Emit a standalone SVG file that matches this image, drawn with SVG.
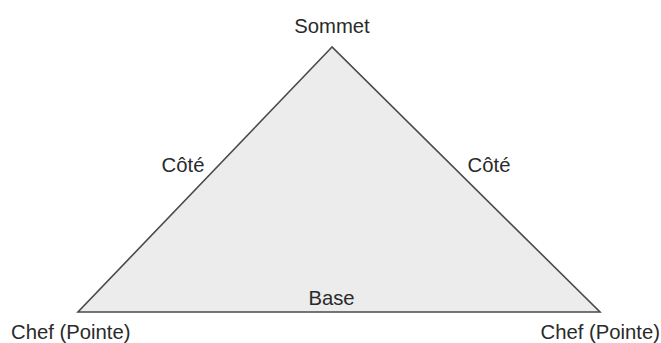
<svg xmlns="http://www.w3.org/2000/svg" width="661" height="343" viewBox="0 0 661 343">
<style>
text{font-family:"Liberation Sans",Arial,sans-serif;font-size:20.3px;fill:#2a2a2a}
.tri{fill:#ececec;stroke:#4a4a4a;stroke-width:1.6;stroke-linejoin:miter}
</style>
<rect width="661" height="343" fill="#ffffff"/>
<g id="triangle">
<polygon class="tri" points="332,47 78,312 600,312"/>
</g>
<g id="connectors"></g>
<g id="sommet"><text x="332" y="33" text-anchor="middle">Sommet</text></g>
<g id="cote-gauche"><text x="183" y="172" text-anchor="middle">Côté</text></g>
<g id="cote-droit"><text x="489" y="172" text-anchor="middle">Côté</text></g>
<g id="base"><text x="331.5" y="305" text-anchor="middle">Base</text></g>
<g id="chef-gauche"><text x="11" y="339">Chef (Pointe)</text></g>
<g id="chef-droit"><text x="660" y="338.5" text-anchor="end">Chef (Pointe)</text></g>
</svg>
